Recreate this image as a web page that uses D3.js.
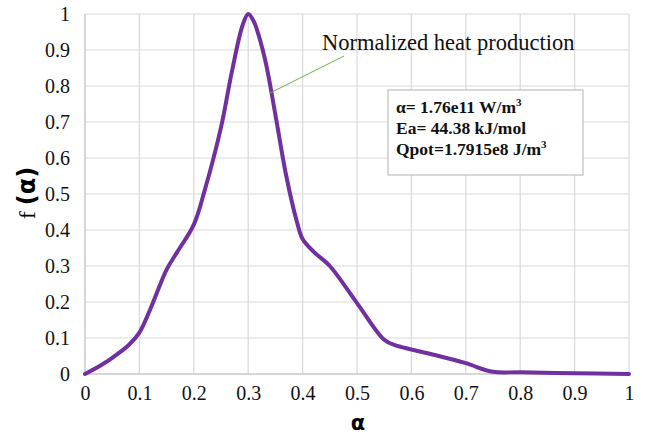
<!DOCTYPE html>
<html>
<head>
<meta charset="utf-8">
<script src="https://cdn.jsdelivr.net/npm/d3@7"></script>
<style>
  body { margin: 0; background: #fff; }
  svg { display: block; }
</style>
</head>
<body>
<svg width="646" height="434"></svg>
<script>
// values
const alphaVals = [0, 0.03, 0.05, 0.08, 0.1, 0.12, 0.15, 0.17, 0.2, 0.22, 0.25, 0.27, 0.29, 0.3, 0.31, 0.33, 0.35, 0.37, 0.39, 0.4, 0.42, 0.45, 0.5, 0.55, 0.57, 0.6, 0.65, 0.7, 0.75, 0.8, 0.9, 1.0];
const fVals     = [0, 0.025, 0.045, 0.08, 0.115, 0.18, 0.29, 0.34, 0.415, 0.51, 0.685, 0.84, 0.97, 1.0, 0.98, 0.88, 0.72, 0.55, 0.42, 0.375, 0.34, 0.3, 0.197, 0.095, 0.08, 0.068, 0.05, 0.03, 0.006, 0.005, 0.002, 0];
const xTicks = [0, 0.1, 0.2, 0.3, 0.4, 0.5, 0.6, 0.7, 0.8, 0.9, 1];
const yTicks = [0, 0.1, 0.2, 0.3, 0.4, 0.5, 0.6, 0.7, 0.8, 0.9, 1];
const boxLines = [
    ["α= 1.76e11 W/m", "3"],
    ["Ea= 44.38 kJ/mol", ""],
    ["Qpot=1.7915e8 J/m", "3"]
];

const svg = d3.select("svg");
const serif = "'Liberation Serif', 'Times New Roman', serif";

const x = d3.scaleLinear().domain([0, 1]).range([85, 629]);
const y = d3.scaleLinear().domain([0, 1]).range([374, 14]);

// grid
svg.append("g")
    .selectAll("line")
    .data(xTicks.slice(1))
    .join("line")
    .attr("x1", d => x(d)).attr("x2", d => x(d))
    .attr("y1", y(0)).attr("y2", y(1))
    .attr("stroke", "#d9d9d9").attr("stroke-width", 1.2);

svg.append("g")
    .selectAll("line")
    .data(yTicks.slice(1))
    .join("line")
    .attr("x1", x(0)).attr("x2", x(1))
    .attr("y1", d => y(d)).attr("y2", d => y(d))
    .attr("stroke", "#d9d9d9").attr("stroke-width", 1.2);

// axes lines
svg.append("line")
    .attr("x1", x(0)).attr("x2", x(0)).attr("y1", y(0)).attr("y2", y(1))
    .attr("stroke", "#c8c8c8").attr("stroke-width", 1.5);
svg.append("line")
    .attr("x1", x(0)).attr("x2", x(1)).attr("y1", y(0)).attr("y2", y(0))
    .attr("stroke", "#c8c8c8").attr("stroke-width", 1.5);

// tick labels
const xAxis = svg.append("g")
    .attr("transform", `translate(0,${y(0)})`)
    .call(d3.axisBottom(x).tickValues(xTicks).tickSize(0).tickPadding(12).tickFormat(d3.format("")));
const yAxis = svg.append("g")
    .attr("transform", `translate(${x(0)},0)`)
    .call(d3.axisLeft(y).tickValues(yTicks).tickSize(0).tickPadding(15).tickFormat(d3.format("")));
[xAxis, yAxis].forEach(a => {
    a.select(".domain").remove();
    a.attr("font-family", serif).attr("font-size", 20);
    a.selectAll("text").attr("fill", "#111");
});

// curve
const pts = alphaVals.map((a, i) => [a, fVals[i]]);
const line = d3.line()
    .x(d => x(d[0]))
    .y(d => y(d[1]))
    .curve(d3.curveCatmullRom.alpha(0.5));

svg.append("path")
    .datum(pts)
    .attr("d", line)
    .attr("fill", "none")
    .attr("stroke", "#7030a0")
    .attr("stroke-width", 4)
    .attr("stroke-linejoin", "round")
    .attr("stroke-linecap", "round");

// axis titles
svg.append("text")
    .attr("x", 358).attr("y", 430)
    .attr("text-anchor", "middle")
    .attr("font-family", "'DejaVu Sans', sans-serif")
    .attr("font-weight", "bold")
    .attr("font-size", 21)
    .text("α");

const yt = svg.append("text")
    .attr("transform", "translate(35,193) rotate(-90)")
    .attr("text-anchor", "middle")
    .attr("font-size", 24);
yt.append("tspan").attr("font-family", serif).text("f ");
yt.append("tspan").attr("font-family", "'DejaVu Sans', sans-serif").attr("font-weight", "bold").text("(α)");

// annotation
svg.append("line")
    .attr("x1", 270).attr("y1", 93)
    .attr("x2", 344).attr("y2", 56)
    .attr("stroke", "#70ad47").attr("stroke-width", 1);

svg.append("text")
    .attr("x", 322).attr("y", 50)
    .attr("font-family", serif)
    .attr("font-size", 22.5)
    .attr("fill", "#111")
    .text("Normalized heat production");

// parameter box
svg.append("rect")
    .attr("x", 388).attr("y", 90)
    .attr("width", 195).attr("height", 85)
    .attr("fill", "#fff")
    .attr("stroke", "#bfbfbf").attr("stroke-width", 1.2);

const bt = svg.append("g").attr("font-family", serif).attr("font-weight", "bold").attr("font-size", 17.5).attr("fill", "#111");
boxLines.forEach((l, i) => {
    const t = bt.append("text").attr("x", 396).attr("y", 113 + i * 21);
    t.append("tspan").text(l[0]);
    if (l[1]) t.append("tspan").attr("font-size", 11).attr("dy", -7).text(l[1]);
});
</script>
</body>
</html>
